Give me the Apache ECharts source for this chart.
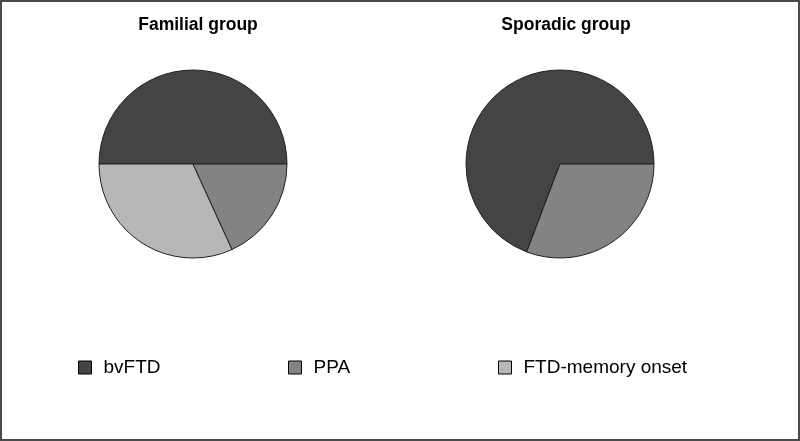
<!DOCTYPE html>
<html>
<head>
<meta charset="utf-8">
<script src="https://cdn.jsdelivr.net/npm/echarts@6/dist/echarts.min.js"></script>
<style>html,body{margin:0;padding:0;background:#fff}#c{width:800px;height:441px}</style>
</head>
<body>
<div id="c"></div>
<script>
// Drawing order (counter-clockwise from 3 o'clock)
var categories = ['bvFTD', 'FTD-memory onset', 'PPA'];
var legendOrder = ['bvFTD', 'PPA', 'FTD-memory onset'];
var familialValues = [11, 7, 4];
var sporadicValues = [9, 0, 4];
var groupTitles = ['Familial group', 'Sporadic group'];
var colors = {'bvFTD': '#444444', 'PPA': '#838383', 'FTD-memory onset': '#b7b7b7'};

function pieData(vals) {
  return categories.map(function (c, i) {
    return {name: c, value: vals[i], itemStyle: {color: colors[c]}};
  });
}
function pieSeries(vals, cx) {
  return {
    type: 'pie',
    center: [cx, 164],
    radius: 94,
    startAngle: 0,
    clockwise: false,
    avoidLabelOverlap: false,
    label: {show: false},
    labelLine: {show: false},
    emphasis: {disabled: true},
    silent: true,
    animation: false,
    itemStyle: {borderColor: '#222', borderWidth: 1},
    data: pieData(vals)
  };
}
var legendLeft = [73, 283, 493];
var titleFont = {fontFamily: 'Liberation Sans, Arial, sans-serif', fontWeight: 'bold', fontSize: 17.5, color: '#000'};
var chart = echarts.init(document.getElementById('c'), null, {renderer: 'canvas'});
chart.setOption({
  backgroundColor: '#fff',
  animation: false,
  title: [
    {text: groupTitles[0], left: 193, top: 11, textAlign: 'center', textStyle: titleFont},
    {text: groupTitles[1], left: 561, top: 11, textAlign: 'center', textStyle: titleFont}
  ],
  legend: legendOrder.map(function (n, i) {
    return {
      data: [n], left: legendLeft[i], top: 353, orient: 'horizontal',
      icon: 'rect', itemWidth: 13, itemHeight: 13, itemGap: 0,
      itemStyle: {borderColor: '#000', borderWidth: 1},
      selectedMode: false,
      textStyle: {fontFamily: 'Liberation Sans, Arial, sans-serif', fontSize: 19, color: '#000', padding: [0, 0, 0, 7]}
    };
  }),
  graphic: [{
    type: 'rect', shape: {x: 1, y: 1, width: 798, height: 439},
    style: {fill: 'none', stroke: '#4a4a4a', lineWidth: 2}, silent: true, z: 100
  }],
  series: [pieSeries(familialValues, 193), pieSeries(sporadicValues, 560)]
});
</script>
</body>
</html>
